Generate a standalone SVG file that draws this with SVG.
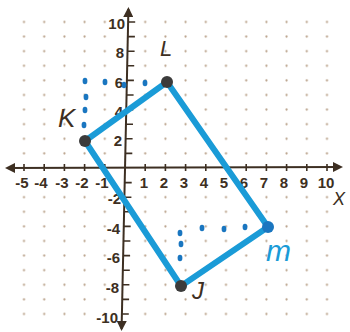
<svg xmlns="http://www.w3.org/2000/svg" width="350" height="332" viewBox="0 0 350 332">
<style>
.ax{stroke:#3d2f22;stroke-width:2;fill:none}
.tk{stroke:#3d2f22;stroke-width:1.6;fill:none}
.num{font-family:"Liberation Sans",Arial,sans-serif;font-weight:bold;font-size:15px;fill:#3d2f22}
.nx{text-anchor:middle}
.ny{text-anchor:end}
.lbl{font-family:"Liberation Sans",Arial,sans-serif;font-style:italic;fill:#3d2f22}
.edge{stroke:#1a9bd7;stroke-width:6;fill:none;stroke-linecap:round;stroke-linejoin:round}
.dd{fill:#1a76c0}
.vtx{fill:#3b3b3b}
</style>
<defs>
<pattern id="dots" patternUnits="userSpaceOnUse" x="114.9" y="160.7" width="20.2" height="14.6">
<circle cx="10.1" cy="7.3" r="1.1" fill="#b8a088"/>
</pattern>
<marker id="arr" viewBox="0 0 10 10" refX="8" refY="5" markerWidth="5" markerHeight="5" orient="auto-start-reverse">
<path d="M0,0 L10,5 L0,10 z" fill="#3d2f22"/>
</marker>
</defs>
<rect width="350" height="332" fill="#ffffff"/>
<g id="grid">
<rect x="14" y="15" width="101" height="146" fill="url(#dots)"/>
<rect x="135" y="15" width="202" height="146" fill="url(#dots)"/>
<rect x="14" y="190" width="101" height="132" fill="url(#dots)"/>
<rect x="135" y="190" width="202" height="132" fill="url(#dots)"/>
</g>
<g id="axes">
<path class="ax" d="M7,168 L341,167" marker-start="url(#arr)" marker-end="url(#arr)"/>
<path class="ax" d="M128.4,9 L121.6,329" marker-start="url(#arr)" marker-end="url(#arr)"/>
<path class="tk" d="M24,164v7M44.2,164v7M64.4,164v7M84.6,164v7M104.8,164v7M145.2,164v7M165.4,164v7M185.6,164v7M205.8,164v7M226,164v7M246.2,164v7M266.4,164v7M286.6,164v7M306.8,164v7M327,164v7"/>
<path class="tk" d="M128.2,22h7M127.9,36.6h7M127.6,51.2h7M127.2,65.8h7M126.9,80.4h7M126.6,95h7M126.3,109.6h7M126,124.2h7M125.6,138.8h7M125.3,153.4h7M124.7,182.6h7M124.4,197.2h7M124,211.8h7M123.7,226.4h7M123.4,241h7M123.1,255.6h7M122.8,270.2h7M122.4,284.8h7M122.1,299.4h7M121.8,314h7"/>
<g class="num nx">
<text x="22" y="188">-5</text>
<text x="41" y="188">-4</text>
<text x="62" y="188">-3</text>
<text x="82" y="188">-2</text>
<text x="102" y="188">-1</text>
<text x="144" y="188">1</text>
<text x="164" y="188">2</text>
<text x="184" y="188">3</text>
<text x="204" y="188">4</text>
<text x="224" y="188">5</text>
<text x="244" y="188">6</text>
<text x="264" y="188">7</text>
<text x="284" y="188">8</text>
<text x="304" y="188">9</text>
<text x="326" y="188">10</text>
</g>
<g class="num ny">
<text x="125" y="29">10</text>
<text x="124" y="58">8</text>
<text x="123" y="88">6</text>
<text x="123" y="117">4</text>
<text x="122" y="146">2</text>
<text x="121" y="204">-2</text>
<text x="120" y="234">-4</text>
<text x="120" y="263">-6</text>
<text x="119" y="293">-8</text>
<text x="118" y="323">-10</text>
</g>
<text class="lbl" x="333" y="205" font-size="18" font-style="normal">X</text>
</g>
<g id="connectors">
<path class="edge" d="M85,141 L167,82 L268,227 L181,286 Z"/>
<g class="dd">
<ellipse cx="84" cy="125" rx="2.4" ry="3.2"/>
<ellipse cx="85" cy="110" rx="2.4" ry="3.2"/>
<ellipse cx="86" cy="97" rx="2.4" ry="3.2"/>
<ellipse cx="85" cy="81" rx="2.4" ry="3.2"/>
<ellipse cx="105" cy="82" rx="2.4" ry="3.2"/>
<ellipse cx="124" cy="85" rx="2.4" ry="3.2"/>
<ellipse cx="145" cy="83" rx="2.4" ry="3.2"/>
<ellipse cx="180" cy="233" rx="2.4" ry="3.2"/>
<ellipse cx="181" cy="244" rx="2.4" ry="3.2"/>
<ellipse cx="180" cy="258" rx="2.4" ry="3.2"/>
<ellipse cx="202" cy="228" rx="2.4" ry="3.2"/>
<ellipse cx="224" cy="229" rx="2.4" ry="3.2"/>
<ellipse cx="245" cy="227" rx="2.4" ry="3.2"/>
</g>
</g>
<g id="K">
<circle class="vtx" cx="85" cy="141" r="6"/>
<text class="lbl" x="58" y="127" font-size="26">K</text>
</g>
<g id="L">
<circle class="vtx" cx="167" cy="82" r="6"/>
<text class="lbl" x="160" y="56" font-size="22">L</text>
</g>
<g id="M">
<circle cx="268" cy="227" r="6" fill="#1a76c0"/>
<text x="266" y="261" font-family="Liberation Sans, Arial, sans-serif" font-style="italic" font-size="30" fill="#1a9bd7">m</text>
</g>
<g id="J">
<circle class="vtx" cx="181" cy="286" r="6"/>
<text class="lbl" x="192" y="299" font-size="24">J</text>
</g>
</svg>
